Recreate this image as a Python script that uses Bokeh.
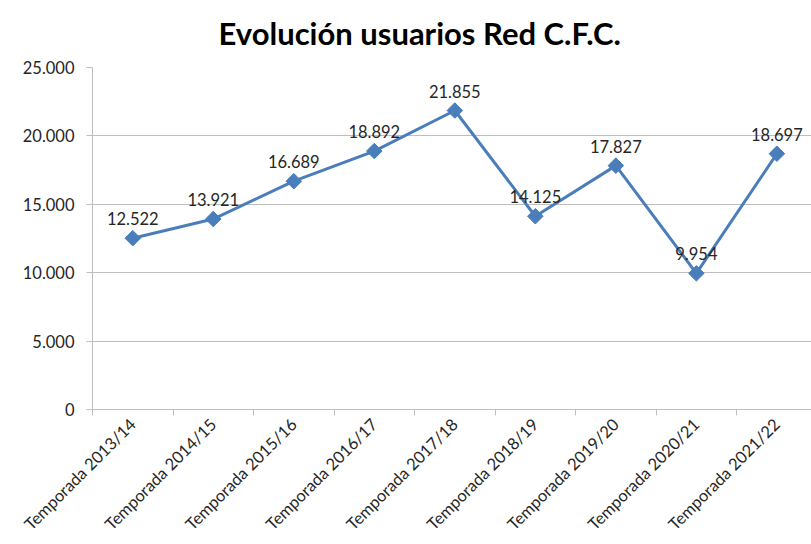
from bokeh.plotting import figure
from bokeh.models import ColumnDataSource, Range1d, FixedTicker, LinearAxis
from bokeh.core.properties import value
from bokeh.embed import file_html
from bokeh.resources import INLINE
import math

categories = ["Temporada 2013/14", "Temporada 2014/15", "Temporada 2015/16",
              "Temporada 2016/17", "Temporada 2017/18", "Temporada 2018/19",
              "Temporada 2019/20", "Temporada 2020/21", "Temporada 2021/22"]
usuarios = [12522, 13921, 16689, 18892, 21855, 14125, 17827, 9954, 18697]
point_labels = ["12.522", "13.921", "16.689", "18.892", "21.855", "14.125",
                "17.827", "9.954", "18.697"]
y_ticks = [0, 5000, 10000, 15000, 20000, 25000]
y_tick_labels = ["0", "5.000", "10.000", "15.000", "20.000", "25.000"]
title_text = "Evolución usuarios Red C.F.C."

FONT = "Lato"
TEXT_COLOR = "#262626"
GRID = "#BEBEBE"
BLUE = "#4A7EBB"

xs = list(range(len(categories)))
src = ColumnDataSource(dict(x=xs, y=usuarios, lab=point_labels))

p = figure(width=811, height=544, output_backend="svg", toolbar_location=None,
           x_range=Range1d(-0.5, 8.43), y_range=Range1d(0, 25000),
           x_axis_location=None, y_axis_location=None,
           min_border_left=92, min_border_right=0, min_border_top=67,
           min_border_bottom=135)
p.outline_line_color = None
p.background_fill_color = "white"
p.border_fill_color = "white"

p.title.text = title_text
p.title.text_font = FONT
p.title.text_font_size = "31px"
p.title.text_font_style = "bold"
p.title.text_color = "#000000"
p.title.align = "left"
p.title.offset = 126
p.title.standoff = 27
p.title.vertical_align = "top"

# y axis
yaxis = LinearAxis(ticker=FixedTicker(ticks=y_ticks))
yaxis.major_label_overrides = {t: l for t, l in zip(y_ticks, y_tick_labels)}
yaxis.axis_line_color = GRID
yaxis.major_tick_line_color = GRID
yaxis.major_tick_out = 6
yaxis.major_tick_in = 0
yaxis.minor_tick_line_color = None
yaxis.major_label_text_font = FONT
yaxis.major_label_text_font_size = "16.5px"
yaxis.major_label_text_color = TEXT_COLOR
yaxis.major_label_standoff = 12
p.add_layout(yaxis, "left")

# x axis
boundaries = [i - 0.5 for i in xs] + [xs[-1] + 0.5]
xaxis = LinearAxis(ticker=FixedTicker(ticks=xs, minor_ticks=boundaries))
xaxis.major_label_overrides = {i: c for i, c in zip(xs, categories)}
xaxis.axis_line_color = GRID
xaxis.major_tick_line_color = None
xaxis.minor_tick_line_color = GRID
xaxis.minor_tick_out = 6
xaxis.minor_tick_in = 0
xaxis.major_label_orientation = math.pi / 4
xaxis.major_label_text_font = FONT
xaxis.major_label_text_font_size = "16.5px"
xaxis.major_label_text_color = TEXT_COLOR
xaxis.major_label_standoff = 6
p.add_layout(xaxis, "below")

p.ygrid.ticker = FixedTicker(ticks=y_ticks)
p.ygrid.grid_line_color = GRID
p.ygrid.grid_line_width = 1
p.xgrid.grid_line_color = None

p.line("x", "y", source=src, line_color=BLUE, line_width=3)
p.scatter("x", "y", source=src, marker="square", angle=math.pi / 4, size=11,
          fill_color=BLUE, line_color=BLUE)
p.text("x", "y", text="lab", source=src, y_offset=-13,
       text_align="center", text_baseline="bottom",
       text_font=value(FONT), text_font_size="16.5px", text_color=TEXT_COLOR)

open("out.html", "w").write(file_html(p, INLINE))
